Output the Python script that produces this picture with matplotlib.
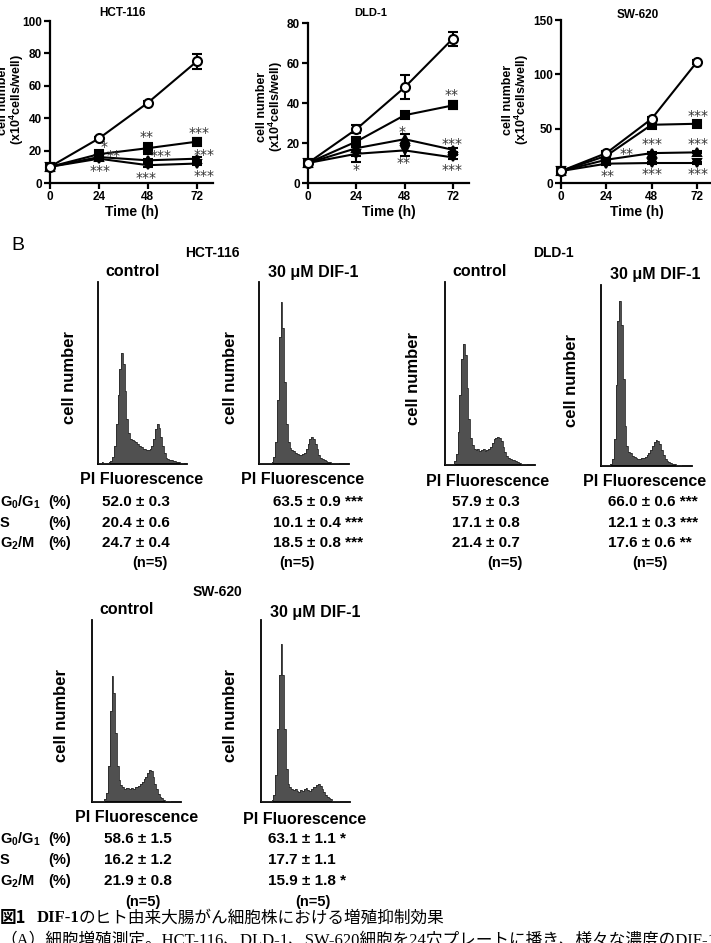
import matplotlib
matplotlib.use('Agg')
import matplotlib.pyplot as plt
import numpy as np

plt.rcParams['font.family'] = ['Liberation Sans', 'DejaVu Sans']
plt.rcParams['mathtext.fontset'] = 'custom'
plt.rcParams['mathtext.rm'] = 'Liberation Sans:bold'
plt.rcParams['mathtext.it'] = 'Liberation Sans:bold'
plt.rcParams['mathtext.bf'] = 'Liberation Sans:bold'
plt.rcParams['mathtext.default'] = 'rm'

# ---------------- data: panel A (growth curves) ----------------
time_h = [0, 24, 48, 72]

hct_ctrl = [10, 27.5, 49.5, 75]
hct_ctrl_err = [0.5, 1.0, 1.0, 4.5]
hct_sq = [10, 17.8, 21.5, 25.5]
hct_sq_err = [0.5, 1.5, 3.5, 2.0]
hct_up = [10, 16, 14, 15]
hct_up_err = [0.5, 1.0, 1.0, 1.0]
hct_dn = [10, 15, 11, 12]
hct_dn_err = [0.5, 1.0, 1.0, 1.0]

dld_ctrl = [10, 26.9, 47.8, 72.2]
dld_ctrl_err = [0.5, 2.0, 6.0, 3.5]
dld_sq = [10, 20.7, 33.9, 38.8]
dld_sq_err = [0.5, 2.5, 1.5, 2.0]
dld_up = [10, 17.4, 21.9, 16.6]
dld_up_err = [0.5, 4.0, 2.5, 1.0]
dld_dn = [10, 14.6, 16.3, 12.8]
dld_dn_err = [0.5, 4.0, 3.0, 1.0]

sw_ctrl = [11, 27.5, 59, 111.4]
sw_ctrl_err = [1.0, 1.5, 2.0, 2.0]
sw_sq = [11, 25, 53.6, 54.5]
sw_sq_err = [1.0, 1.0, 1.5, 1.5]
sw_up = [11, 21.4, 27.5, 28.2]
sw_up_err = [1.0, 1.0, 1.0, 1.0]
sw_dn = [11, 17.8, 18.4, 18.4]
sw_dn_err = [1.0, 1.0, 1.0, 1.0]

hct_stars = [(26.5, 22.5, '*'), (31, 16.4, '**'), (24.4, 7.2, '***'),
             (47.2, 28.7, '**'), (54.6, 16.4, '***'), (47.2, 3.0, '***'),
             (73, 31, '***'), (75.7, 17.4, '***'), (75.7, 4.1, '***')]
dld_stars = [(71.5, 44, '**'), (46.7, 25.7, '*'), (71.5, 19.6, '***'),
             (23.9, 6.6, '*'), (47.7, 10, '**'), (71.5, 6.6, '***')]
sw_stars = [(72.5, 61.2, '***'), (34.6, 27, '**'), (48.2, 36, '***'),
            (72.5, 36, '***'), (24.4, 6.7, '**'), (48.2, 8.6, '***'),
            (72.5, 8.6, '***')]

# ---------------- data: panel B (DNA histograms, % of axis height) ----------------
hct_c_hist = [0.5, 0.5, 1, 0.8, 0.5, 0.8, 1, 1.5, 4, 10, 22, 38, 52, 61, 55, 40,
              25, 17, 14, 13, 12.5, 12, 11, 10, 9.5, 8.5, 8, 7.5, 7.5, 8, 10,
              14, 19, 22, 20, 15, 10, 6, 3.5, 2.5, 2, 2, 1.5, 1.5, 1, 1, 0.5,
              0.3, 0.2, 0.2]
hct_d_hist = [0.3, 0.3, 0.4, 0.3, 0.4, 0.5, 0.6, 1, 4, 12, 35, 70, 89, 75, 45,
              22, 12, 9, 7.5, 7, 6, 5.5, 5, 5, 5.5, 6, 8, 11, 14, 15, 14, 11, 8,
              5, 3.5, 2.5, 2, 1.5, 1.2, 1, 0.8, 0.5, 0.4, 0.3, 0.2, 0.2, 0.1,
              0.1, 0.1, 0.1]
dld_c_hist = [0.3, 0.3, 0.3, 0.5, 0.8, 2, 6, 18, 38, 58, 66, 60, 42, 25, 15, 11,
              9, 8, 8.5, 7.5, 8, 8.5, 7.5, 8, 9, 10, 12, 14, 15, 15.5, 15, 13,
              10, 7, 5, 4, 3.5, 3, 2.5, 2, 1.5, 1, 0.6, 0.4, 0.3, 0.2, 0.2, 0.1,
              0.1, 0.1]
dld_d_hist = [0.3, 0.3, 0.3, 0.4, 0.6, 1, 4, 15, 45, 80, 91, 78, 48, 22, 11, 8,
              7, 5.5, 5, 4.5, 4, 4, 4.5, 4.5, 5, 6, 7, 9, 11, 13, 14.5, 14, 12,
              9, 6, 4, 3, 2, 1.5, 1.2, 1, 0.7, 0.5, 0.3, 0.2, 0.2, 0.1, 0.1,
              0.1, 0.1]
sw_c_hist = [0.3, 0.3, 0.3, 0.4, 0.5, 0.6, 0.8, 1.5, 5, 20, 50, 69, 60, 38, 20,
             12, 9.5, 8, 7, 7.5, 7.5, 7, 7.5, 7, 8, 8.5, 9, 10, 11, 12.5, 14, 16,
             17.5, 17, 14, 10, 7, 4.5, 3, 2, 1, 0.6, 0.4, 0.3, 0.2, 0.2, 0.1,
             0.1, 0.1, 0.1]
sw_d_hist = [0.3, 0.3, 0.3, 0.4, 0.5, 0.6, 1, 4, 15, 40, 70, 87, 70, 40, 18, 10,
             8, 7, 6.5, 7, 6, 5.5, 6.5, 6, 7, 7.5, 6.5, 6, 7, 8, 8.5, 9.5, 10,
             9, 7, 5.5, 4, 3, 2, 1.5, 0.8, 0.5, 0.4, 0.3, 0.2, 0.2, 0.1, 0.1,
             0.1, 0.1]

hct_c_vals = ['52.0 ± 0.3', '20.4 ± 0.6', '24.7 ± 0.4']
hct_d_vals = ['63.5 ± 0.9 ***', '10.1 ± 0.4 ***', '18.5 ± 0.8 ***']
dld_c_vals = ['57.9 ± 0.3', '17.1 ± 0.8', '21.4 ± 0.7']
dld_d_vals = ['66.0 ± 0.6 ***', '12.1 ± 0.3 ***', '17.6 ± 0.6 **']
sw_c_vals = ['58.6 ± 1.5', '16.2 ± 1.2', '21.9 ± 0.8']
sw_d_vals = ['63.1 ± 1.1 *', '17.7 ± 1.1', '15.9 ± 1.8 *']

# ---------------- figure ----------------
W, H = 711, 943
fig = plt.figure(figsize=(W / 100, H / 100), dpi=100)


def add_ax(x0, y0, x1, y1):
    return fig.add_axes([x0 / W, 1 - y1 / H, (x1 - x0) / W, (y1 - y0) / H])


def txt(x, y, s, **kw):
    kw.setdefault('ha', 'center')
    kw.setdefault('va', 'center')
    return fig.text(x / W, 1 - y / H, s, **kw)


def growth(box, ymax, yticks, series, stars, title, title_xy, tsize, lab_x, lab_y):
    ax = add_ax(*box)
    ax.set_xlim(0, 80)
    ax.set_ylim(0, ymax)
    for sp in ['top', 'right']:
        ax.spines[sp].set_visible(False)
    for sp in ['left', 'bottom']:
        ax.spines[sp].set_linewidth(1.6)
    ax.set_xticks([0, 24, 48, 72])
    ax.set_yticks(yticks)
    ax.tick_params(direction='out', length=4, width=1.6, labelsize=8.5, pad=2)
    for lab in ax.get_xticklabels() + ax.get_yticklabels():
        lab.set_fontweight('bold')
    styles = [('o', 'white', 6.5), ('s', 'black', 6), ('^', 'black', 6), ('v', 'black', 6)]
    for (vals, errs), (m, fc, ms) in zip(series, styles):
        ax.errorbar(time_h, vals, yerr=errs, color='black', lw=1.5, marker=m,
                    mfc=fc, mec='black', mew=1.5, ms=ms, capsize=3.5,
                    elinewidth=1.5, capthick=1.5, clip_on=False, zorder=3 if m == 'o' else 2)
    for x, y, s in stars:
        ax.text(x, y, s, ha='center', va='center', fontsize=10,
                family='DejaVu Sans', color='#333333')
    ax.set_xlabel('Time (h)', fontsize=10, fontweight='bold', labelpad=1)
    txt(title_xy[0], title_xy[1], title, fontsize=tsize, fontweight='bold')
    txt(lab_x[0], lab_y, 'cell number', rotation=90, fontsize=9, fontweight='bold')
    txt(lab_x[1], lab_y, '(x10$^{4}$cells/well)', rotation=90, fontsize=9, fontweight='bold')
    return ax


growth((50, 21, 213, 183), 100, [0, 20, 40, 60, 80, 100],
       [(hct_ctrl, hct_ctrl_err), (hct_sq, hct_sq_err), (hct_up, hct_up_err), (hct_dn, hct_dn_err)],
       hct_stars, 'HCT-116', (122, 13), 8.5, (3, 17), 100)
growth((308, 23, 469, 183), 80, [0, 20, 40, 60, 80],
       [(dld_ctrl, dld_ctrl_err), (dld_sq, dld_sq_err), (dld_up, dld_up_err), (dld_dn, dld_dn_err)],
       dld_stars, 'DLD-1', (371, 13), 8, (262, 276), 107)
growth((561, 20, 712, 183), 150, [0, 50, 100, 150],
       [(sw_ctrl, sw_ctrl_err), (sw_sq, sw_sq_err), (sw_up, sw_up_err), (sw_dn, sw_dn_err)],
       sw_stars, 'SW-620', (638, 15), 8.5, (508, 522), 100)


# ---------------- panel B ----------------
def hist(box, counts, title, title_xy, ylab_x, pi_x, pi_y):
    ax = add_ax(*box)
    edges = np.arange(len(counts) + 1)
    ax.stairs(counts, edges, fill=True, color='#505050', zorder=2)
    ax.stairs(counts, edges, color='#2a2a2a', lw=0.6, zorder=3)
    ax.set_xlim(0, len(counts))
    ax.set_ylim(0, 100)
    for sp in ['top', 'right']:
        ax.spines[sp].set_visible(False)
    for sp in ['left', 'bottom']:
        ax.spines[sp].set_linewidth(1.3)
    ax.set_xticks([])
    ax.set_yticks([])
    cy = (box[1] + box[3]) / 2
    txt(title_xy[0], title_xy[1], title, fontsize=11.5, fontweight='bold')
    txt(ylab_x, cy + 5, 'cell number', rotation=90, fontsize=12, fontweight='bold')
    txt(pi_x, pi_y, 'PI Fluorescence', fontsize=11.5, fontweight='bold')
    return ax


txt(18, 245, 'B', fontsize=14)
txt(212, 253, 'HCT-116', fontsize=10, fontweight='bold')
txt(553, 253, 'DLD-1', fontsize=10, fontweight='bold')
txt(217, 592, 'SW-620', fontsize=10, fontweight='bold')

hist((98, 282, 187, 464), hct_c_hist, 'control', (133, 272), 70, 142, 480)
hist((259, 282, 349, 464), hct_d_hist, '30 μM DIF-1', (313, 273), 230, 303, 480)
hist((445, 282, 535, 465), dld_c_hist, 'control', (480, 272), 413, 488, 481)
hist((601, 285, 692, 466), dld_d_hist, '30 μM DIF-1', (655, 275), 572, 645, 481)
hist((92, 620, 181, 802), sw_c_hist, 'control', (127, 609), 62, 137, 818)
hist((261, 620, 350, 802), sw_d_hist, '30 μM DIF-1', (315, 612), 231, 305, 819)

row_names = ['G$_0$/G$_1$', 'S', 'G$_2$/M']


def rows(ys):
    for name, y in zip(row_names, ys):
        txt(0, y, name, ha='left', fontsize=10.5, fontweight='bold')
        txt(48, y, '(%)', ha='left', fontsize=10.5, fontweight='bold')


def vals(x, ys, values, nx, ny):
    for v, y in zip(values, ys):
        txt(x, y, v, ha='left', fontsize=11, fontweight='bold')
    txt(nx, ny, '(n=5)', fontsize=10.5, fontweight='bold')


ys1 = [502, 523, 543]
rows(ys1)
vals(102, ys1, hct_c_vals, 150, 563)
vals(273, ys1, hct_d_vals, 297, 563)
vals(452, ys1, dld_c_vals, 505, 563)
vals(608, ys1, dld_d_vals, 650, 563)

ys2 = [839, 860, 881]
rows(ys2)
vals(104, ys2, sw_c_vals, 143, 902)
vals(268, ys2, sw_d_vals, 313, 902)

# ---------------- caption ----------------
cjk = ['Liberation Serif', 'Noto Sans CJK JP']
txt(0, 918, '図1', ha='left', fontsize=12, fontweight='bold', family=['Noto Sans CJK JP'])
txt(37, 918, 'DIF-1', ha='left', fontsize=12, fontweight='bold', family=['Liberation Serif'])
txt(79, 918, 'のヒト由来大腸がん細胞株における増殖抑制効果', ha='left', fontsize=12,
    family=['Noto Sans CJK JP'])
txt(0, 941, '（A）細胞増殖測定。HCT-116、DLD-1、SW-620細胞を24穴プレートに播き、様々な濃度のDIF-1',
    ha='left', fontsize=12, family=cjk)

fig.savefig('out.png', dpi=100)
